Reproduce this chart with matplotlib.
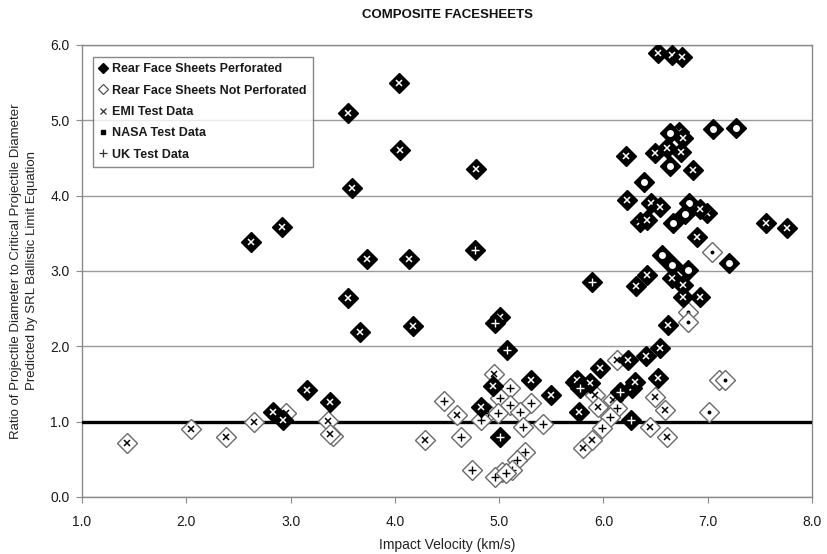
import matplotlib
matplotlib.use("Agg")
import matplotlib.pyplot as plt
from matplotlib.lines import Line2D

plt.rcParams['font.family'] = ['Liberation Sans', 'DejaVu Sans']

# Impact velocity (km/s) and diameter ratio for each shot, grouped by
# outcome (rear facesheet perforated or not) and by test source.
perf_emi_x = [4.04, 3.55, 4.05, 4.78, 3.59, 2.92, 2.62, 3.73, 4.14, 3.55, 3.67, 4.17,
              3.16, 3.38, 2.83, 5.01, 5.31, 5.50, 5.73, 5.77, 4.94, 4.83, 2.93,
              6.52, 6.66, 6.75, 6.72, 6.76, 6.22, 6.49, 6.61, 6.74, 6.86,
              6.23, 6.46, 6.54, 6.35, 6.42, 6.99, 6.93, 6.90, 7.56, 7.76,
              6.42, 6.31, 6.66, 6.76, 6.76, 6.93, 6.62, 6.54, 6.41, 6.24, 5.97,
              5.75, 5.87, 6.52, 6.27, 6.30]
perf_emi_y = [5.50, 5.10, 4.61, 4.36, 4.10, 3.59, 3.39, 3.16, 3.16, 2.64, 2.19, 2.27,
              1.42, 1.26, 1.13, 2.39, 1.55, 1.35, 1.53, 1.13, 1.47, 1.20, 1.02,
              5.90, 5.87, 5.84, 4.85, 4.77, 4.52, 4.57, 4.63, 4.58, 4.34,
              3.94, 3.90, 3.85, 3.65, 3.68, 3.77, 3.82, 3.45, 3.64, 3.57,
              2.95, 2.80, 2.91, 2.82, 2.66, 2.66, 2.28, 1.98, 1.87, 1.82, 1.71,
              1.55, 1.51, 1.58, 1.45, 1.53]

perf_uk_x = [4.77, 5.89, 4.96, 5.08, 5.01, 6.26, 6.16, 5.78]
perf_uk_y = [3.28, 2.86, 2.31, 1.95, 0.80, 1.02, 1.39, 1.45]

perf_nasa_x = [7.05, 7.27, 6.64, 6.64, 6.39, 6.82, 6.78, 6.67, 7.20, 6.56, 6.66, 6.81]
perf_nasa_y = [4.89, 4.90, 4.83, 4.40, 4.18, 3.90, 3.75, 3.64, 3.11, 3.21, 3.08, 3.01]

open_emi_x = [1.43, 2.05, 2.38, 2.65, 2.96, 3.36, 3.41, 3.38, 4.29, 4.60, 4.95,
              5.80, 5.89, 6.49, 6.59, 6.45, 6.61, 6.13, 5.92, 6.09, 5.95]
open_emi_y = [0.72, 0.90, 0.80, 1.00, 1.12, 1.01, 0.81, 0.84, 0.76, 1.09, 1.63,
              0.65, 0.76, 1.33, 1.16, 0.93, 0.80, 1.82, 1.35, 1.29, 1.20]

open_uk_x = [4.47, 4.63, 4.74, 5.10, 5.01, 5.10, 5.31, 5.20, 4.89, 4.83, 4.99,
             5.23, 5.42, 5.25, 5.17, 5.12, 5.03, 4.96, 5.07, 6.13, 6.06, 5.99]
open_uk_y = [1.27, 0.80, 0.36, 1.45, 1.31, 1.22, 1.25, 1.13, 1.12, 1.02, 1.12,
             0.93, 0.97, 0.60, 0.49, 0.36, 0.33, 0.27, 0.32, 1.18, 1.06, 0.92]

open_nasa_x = [7.01, 7.11, 7.17, 7.04, 6.81, 6.81]
open_nasa_y = [1.13, 1.55, 1.55, 3.25, 2.46, 2.32]

x_ticks = [1.0, 2.0, 3.0, 4.0, 5.0, 6.0, 7.0, 8.0]
y_ticks = [0.0, 1.0, 2.0, 3.0, 4.0, 5.0, 6.0]
limit_ratio = 1.0

legend_labels = ["Rear Face Sheets Perforated", "Rear Face Sheets Not Perforated",
                 "EMI Test Data", "NASA Test Data", "UK Test Data"]

fig = plt.figure(figsize=(8.27, 5.54), dpi=100)
ax = fig.add_axes([82 / 827, 57 / 554, 730 / 827, 452 / 554])

DMS = 10.5
grid_c = '#9a9a9a'


def inner(src, filled):
    col = 'white' if filled else 'black'
    if src == 'emi':
        return dict(marker='x', ms=4.2, mew=1.1, color=col)
    if src == 'uk':
        return dict(marker='+', ms=6, mew=1.0, color=col)
    if filled:
        return dict(marker='o', ms=5.0, mew=0, color='white')
    return dict(marker='o', ms=2.8, mew=0, color='black')


groups = [
    (open_emi_x, open_emi_y, 'emi', False),
    (open_uk_x, open_uk_y, 'uk', False),
    (open_nasa_x, open_nasa_y, 'nasa', False),
    (perf_emi_x, perf_emi_y, 'emi', True),
    (perf_uk_x, perf_uk_y, 'uk', True),
    (perf_nasa_x, perf_nasa_y, 'nasa', True),
]

z = 5
for xs, ys, src, filled in groups:
    for xv, yv in zip(xs, ys):
        if filled:
            ax.plot([xv], [yv], marker='D', ms=DMS, mfc='black', mec='black',
                    mew=1.0, ls='none', zorder=z)
        else:
            ax.plot([xv], [yv], marker='D', ms=DMS, mfc='white', mec='#6a6a6a',
                    mew=1.0, ls='none', zorder=z)
        st = inner(src, filled)
        ax.plot([xv], [yv], ls='none', zorder=z + 1, **st)
        z += 2

ax.axhline(limit_ratio, color='black', lw=2.4, zorder=4)

ax.set_xlim(1.0, 8.0)
ax.set_ylim(0.0, 6.0)
ax.set_xticks(x_ticks)
ax.set_yticks(y_ticks)
ax.set_xticklabels([f"{v:.1f}" for v in x_ticks])
ax.set_yticklabels([f"{v:.1f}" for v in y_ticks])
ax.yaxis.grid(True, color=grid_c, lw=1.0)
ax.set_axisbelow(True)
for s in ax.spines.values():
    s.set_color('#8a8a8a')
    s.set_linewidth(1.0)
ax.tick_params(axis='both', colors='#8a8a8a', length=4, width=0.8,
               labelsize=10, labelcolor='#1a1a1a')
ax.tick_params(axis='y', pad=5)
ax.tick_params(axis='x', pad=9)

fig.text(447 / 827, 1 - 15 / 554, "COMPOSITE FACESHEETS", ha='center', va='center',
         fontsize=9.5, fontweight='bold', color='#111111')
fig.text(447 / 827, 1 - 545 / 554, "Impact Velocity (km/s)", ha='center', va='center',
         fontsize=10, color='#222222')
fig.text(24 / 827, 0.511,
         "Ratio of Projectile Diameter to Critical Projectile Diameter\n"
         "Predicted by SRL Ballistic Limit Equation",
         ha='center', va='center', rotation=90, fontsize=9.5, color='#222222',
         linespacing=1.35)

handles = [
    Line2D([], [], marker='D', ms=5, mfc='black', mec='black', ls='none'),
    Line2D([], [], marker='D', ms=5, mfc='white', mec='#444444', mew=0.8, ls='none'),
    Line2D([], [], marker='x', ms=4, mec='#333333', mew=0.9, ls='none'),
    Line2D([], [], marker='s', ms=3.2, mfc='black', mec='black', ls='none'),
    Line2D([], [], marker='+', ms=6, mec='#333333', mew=0.9, ls='none'),
]
leg = ax.legend(handles, legend_labels, loc='upper left',
                bbox_to_anchor=(11 / 730, 1 - 12 / 452), borderaxespad=0,
                fontsize=9, frameon=True, fancybox=False, handlelength=0.6,
                handletextpad=0.4, labelspacing=0.75, borderpad=0.5)
leg.get_frame().set_edgecolor('#6a6a6a')
leg.get_frame().set_linewidth(1.0)
leg.set_zorder(500)
for t in leg.get_texts():
    t.set_fontweight('bold')
    t.set_color('#1a1a1a')

fig.savefig("out.png", dpi=100)
